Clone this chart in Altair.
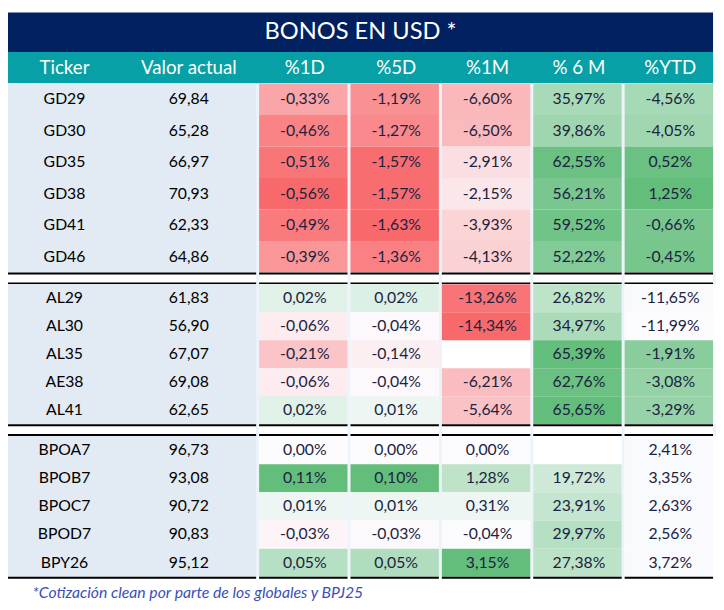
import altair as alt
import pandas as pd

# ---------------- data ----------------
title_text = "BONOS EN USD *"
headers = ["Ticker", "Valor actual", "%1D", "%5D", "%1M", "% 6 M", "%YTD"]
footnote = "*Cotización clean por parte de los globales y BPJ25"

gd_tickers = ["GD29", "GD30", "GD35", "GD38", "GD41", "GD46"]
gd_valor = [69.84, 65.28, 66.97, 70.93, 62.33, 64.86]
gd_d1 = [-0.33, -0.46, -0.51, -0.56, -0.49, -0.39]
gd_d5 = [-1.19, -1.27, -1.57, -1.57, -1.63, -1.36]
gd_m1 = [-6.60, -6.50, -2.91, -2.15, -3.93, -4.13]
gd_m6 = [35.97, 39.86, 62.55, 56.21, 59.52, 52.22]
gd_ytd = [-4.56, -4.05, 0.52, 1.25, -0.66, -0.45]

al_tickers = ["AL29", "AL30", "AL35", "AE38", "AL41"]
al_valor = [61.83, 56.90, 67.07, 69.08, 62.65]
al_d1 = [0.02, -0.06, -0.21, -0.06, 0.02]
al_d5 = [0.02, -0.04, -0.14, -0.04, 0.01]
al_m1 = [-13.26, -14.34, None, -6.21, -5.64]
al_m6 = [26.82, 34.97, 65.39, 62.76, 65.65]
al_ytd = [-11.65, -11.99, -1.91, -3.08, -3.29]

bp_tickers = ["BPOA7", "BPOB7", "BPOC7", "BPOD7", "BPY26"]
bp_valor = [96.73, 93.08, 90.72, 90.83, 95.12]
bp_d1 = [0.00, 0.11, 0.01, -0.03, 0.05]
bp_d5 = [0.00, 0.10, 0.01, -0.03, 0.05]
bp_m1 = [0.00, 1.28, 0.31, -0.04, 3.15]
bp_m6 = [None, 19.72, 23.91, 29.97, 27.38]
bp_ytd = [2.41, 3.35, 2.63, 2.56, 3.72]

# ---------------- style ----------------
W = 716
GAP = 3
SEP = 12
XS = alt.Scale(domain=[0, 2, 7], range=[0, 255, 719], zero=False, nice=False)
NAVY = "#002060"
TEAL = "#07A0A6"
LEFT_BG = "#E2EAF4"
STRIPE = "#EDF3FA"
RED, WHITE, GREEN = "#F8696B", "#FCFCFF", "#63BE7B"
TXT = "#1C2340"
FONT = "Lato"


def num(v):
    return f"{v:.2f}".replace(".", ",")


def pct(v):
    return "" if v is None else num(v) + "%"


def valid(vals):
    return [v for v in vals if v is not None]


def div_domain(vals):
    v = valid(vals)
    return [min(v), 0, max(v)]


dom_d1 = div_domain(gd_d1 + al_d1 + bp_d1)
dom_d5 = div_domain(gd_d5 + al_d5 + bp_d5)
dom_m1 = div_domain(gd_m1 + al_m1 + bp_m1)
dom_m6 = [0, max(valid(gd_m6 + al_m6 + bp_m6))]
ytd_v = gd_ytd + al_ytd
dom_ytd = [min(ytd_v), max(ytd_v)]

col_scales = {
    2: (dom_d1, [RED, WHITE, GREEN]),
    3: (dom_d5, [RED, WHITE, GREEN]),
    4: (dom_m1, [RED, WHITE, GREEN]),
    5: (dom_m6, [WHITE, GREEN]),
}

seg_df = pd.DataFrame({"s": [0, 2, 3, 4, 5, 6], "e": [2, 3, 4, 5, 6, 7]})
bnd_df = pd.DataFrame({"b": [2, 3, 4, 5, 6, 7]})

MID = "datum.ci == 0 ? 0.45 : (datum.ci == 1 ? 1.44 : datum.ci + 0.5)"


def long_df(tickers, valor, cols):
    recs = []
    for r, t in enumerate(tickers):
        recs.append(dict(row=t, ci=0, value=None, label=t))
        recs.append(dict(row=t, ci=1, value=valor[r], label=num(valor[r])))
        for k, col in enumerate(cols):
            recs.append(dict(row=t, ci=k + 2, value=col[r], label=pct(col[r])))
    return pd.DataFrame(recs)


def Y(tickers):
    return alt.Y("row:N", sort=tickers, axis=None,
                 scale=alt.Scale(type="band", paddingInner=0, paddingOuter=0))


def black_line(y0, y1):
    return (
        alt.Chart(seg_df).mark_rect(x2Offset=-GAP, color="#000000")
        .encode(x=alt.X("s:Q", scale=XS, axis=None), x2="e:Q",
                y=alt.value(y0), y2=alt.value(y1))
    )


def panel(tickers, valor, cols, height, ytd_scaled, bottom_line=False):
    df = long_df(tickers, valor, cols)
    y = Y(tickers)
    base = alt.Chart(df)
    layers = []
    layers.append(
        base.transform_filter("datum.ci >= 2")
        .transform_calculate(xe="datum.ci + 1")
        .mark_rect(x2Offset=-GAP, color="#FFFFFF")
        .encode(x=alt.X("ci:Q", scale=XS, axis=None), x2="xe:Q", y=y)
    )
    layers.append(
        base.transform_filter("datum.ci == 0")
        .transform_calculate(xe="datum.ci + 2")
        .mark_rect(x2Offset=-GAP, color=LEFT_BG)
        .encode(x=alt.X("ci:Q", scale=XS, axis=None), x2="xe:Q", y=y)
    )
    scales = dict(col_scales)
    if ytd_scaled:
        scales[6] = (dom_ytd, [WHITE, GREEN])
    for ci, (dom, rng) in scales.items():
        layers.append(
            base.transform_filter(f"datum.ci == {ci} && isValid(datum.value)")
            .transform_calculate(xe="datum.ci + 1")
            .mark_rect(x2Offset=-GAP)
            .encode(
                x=alt.X("ci:Q", scale=XS, axis=None),
                x2="xe:Q",
                y=y,
                color=alt.Color("value:Q", legend=None,
                                scale=alt.Scale(domain=dom, range=rng,
                                                interpolate="rgb", clamp=True)),
            )
        )
    if not ytd_scaled:
        layers.append(
            base.transform_filter("datum.ci == 6")
            .transform_calculate(xe="datum.ci + 1")
            .mark_rect(x2Offset=-GAP, color="#F9FAFD")
            .encode(x=alt.X("ci:Q", scale=XS, axis=None), x2="xe:Q", y=y)
        )
    layers.append(
        base.transform_filter("datum.ci <= 1")
        .transform_calculate(mid=MID)
        .mark_text(fontSize=16, color="#000000", font=FONT)
        .encode(x=alt.X("mid:Q", scale=XS, axis=None), y=y, text="label:N")
    )
    layers.append(
        base.transform_filter("datum.ci >= 2")
        .transform_calculate(mid=MID)
        .mark_text(fontSize=16, color=TXT, font=FONT)
        .encode(x=alt.X("mid:Q", scale=XS, axis=None), y=y, text="label:N")
    )
    if bottom_line:
        layers.append(black_line(height, height + 2))
    return (
        alt.layer(*layers)
        .resolve_scale(color="independent")
        .properties(width=W, height=height,
                    view=alt.ViewBackground(fill=STRIPE, strokeWidth=0))
    )


def separator():
    stripes = (
        alt.Chart(bnd_df).mark_rect(xOffset=-GAP, color=STRIPE)
        .encode(x=alt.X("b:Q", scale=XS, axis=None), x2="b:Q",
                y=alt.value(0), y2=alt.value(SEP))
    )
    return alt.layer(stripes, black_line(0, 2), black_line(SEP - 2, SEP)).properties(
        width=W, height=SEP, view=alt.ViewBackground(fill="#FFFFFF", strokeWidth=0)
    )


title_panel = (
    alt.Chart(pd.DataFrame({"t": [title_text]}))
    .mark_text(fontSize=24, color="#FFFFFF", font=FONT)
    .encode(text="t:N", x=alt.value(W / 2), y=alt.value(20))
    .properties(width=W, height=40, view=alt.ViewBackground(fill=NAVY, strokeWidth=0))
)

header_panel = (
    alt.Chart(pd.DataFrame({"h": headers, "ci": list(range(len(headers)))}))
    .transform_calculate(mid=MID)
    .mark_text(fontSize=19, color="#FFFFFF", font=FONT)
    .encode(text="h:N", x=alt.X("mid:Q", scale=XS, axis=None), y=alt.value(16))
    .properties(width=W, height=32, view=alt.ViewBackground(fill=TEAL, strokeWidth=0))
)

gd_panel = panel(gd_tickers, gd_valor, [gd_d1, gd_d5, gd_m1, gd_m6, gd_ytd], 192, True)
al_panel = panel(al_tickers, al_valor, [al_d1, al_d5, al_m1, al_m6, al_ytd], 142, True)
bp_panel = panel(bp_tickers, bp_valor, [bp_d1, bp_d5, bp_m1, bp_m6, bp_ytd], 143, False,
                 bottom_line=True)

foot_panel = (
    alt.Chart(pd.DataFrame({"f": [footnote]}))
    .mark_text(fontSize=16, fontStyle="italic", color="#3A4FB8", align="left", font=FONT)
    .encode(text="f:N", x=alt.value(25), y=alt.value(17))
    .properties(width=W, height=26, view=alt.ViewBackground(strokeWidth=0))
)

chart = (
    alt.vconcat(title_panel, header_panel, gd_panel, separator(), al_panel,
                separator(), bp_panel, foot_panel, spacing=0, bounds="flush")
    .properties(padding=0)
    .configure_view(strokeWidth=0)
)

chart.save("out.html", embed_options={"renderer": "svg", "actions": False})
